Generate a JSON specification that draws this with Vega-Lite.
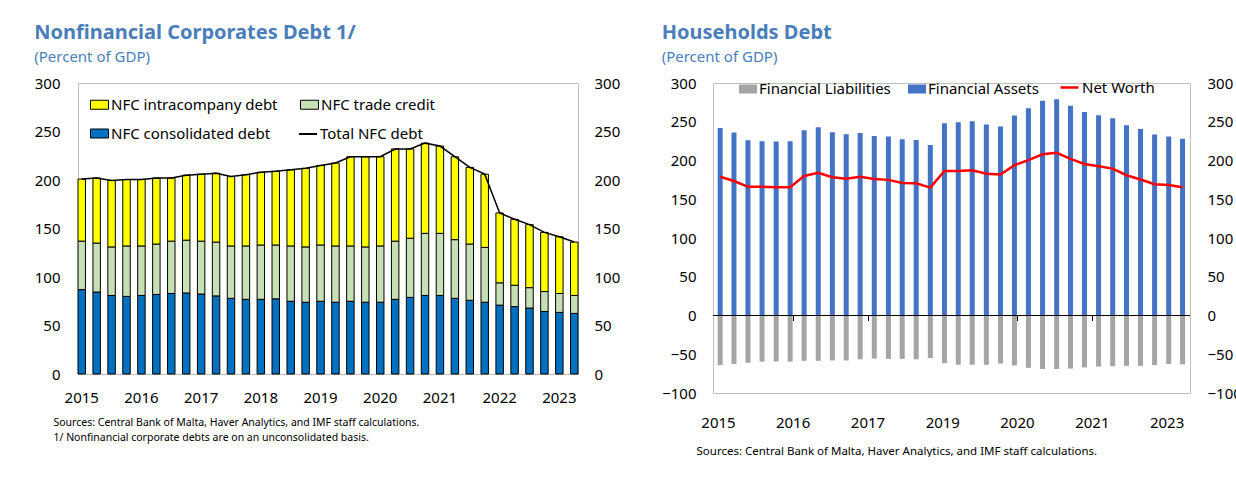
{
  "$schema": "https://vega.github.io/schema/vega-lite/v6.json",
  "background": "white",
  "padding": {"left": 33, "top": 22, "right": 0, "bottom": 0},
  "spacing": 40,
  "config": {
    "font": "Noto Sans",
    "view": {"stroke": "#BFBFBF", "strokeWidth": 1},
    "axis": {"labelFont": "Noto Sans", "labelFontSize": 15, "labelColor": "black", "grid": false, "ticks": false, "domain": false, "titleFont": "Noto Sans", "titleColor": "black", "titleFontWeight": "normal"},
    "legend": {"labelFont": "Noto Sans", "labelFontSize": 15, "labelColor": "black", "padding": 0, "title": null, "labelLimit": 400},
    "title": {"font": "Noto Sans", "fontSize": 20, "fontWeight": "bold", "color": "#4A7EBB", "subtitleFont": "Noto Sans", "subtitleFontSize": 15, "subtitleColor": "#4A7EBB", "subtitlePadding": 7, "anchor": "start", "frame": "bounds", "offset": 11}
  },
  "datasets": {
    "nfc": [
      {"q": "2015Q1", "cons": 87, "trade": 50, "intra": 64, "total": 201},
      {"q": "2015Q2", "cons": 84.5, "trade": 50.5, "intra": 67, "total": 202},
      {"q": "2015Q3", "cons": 81, "trade": 50, "intra": 68.5, "total": 199.5},
      {"q": "2015Q4", "cons": 80, "trade": 52, "intra": 68.5, "total": 200.5},
      {"q": "2016Q1", "cons": 81, "trade": 51, "intra": 68.5, "total": 200.5},
      {"q": "2016Q2", "cons": 82, "trade": 52, "intra": 68, "total": 202},
      {"q": "2016Q3", "cons": 83, "trade": 54, "intra": 65, "total": 202},
      {"q": "2016Q4", "cons": 83.5, "trade": 54.5, "intra": 67, "total": 205},
      {"q": "2017Q1", "cons": 82.5, "trade": 54.5, "intra": 69, "total": 206},
      {"q": "2017Q2", "cons": 80.5, "trade": 55.5, "intra": 71, "total": 207},
      {"q": "2017Q3", "cons": 78, "trade": 54, "intra": 71.5, "total": 203.5},
      {"q": "2017Q4", "cons": 77, "trade": 55, "intra": 73.5, "total": 205.5},
      {"q": "2018Q1", "cons": 77, "trade": 56, "intra": 75, "total": 208},
      {"q": "2018Q2", "cons": 77.5, "trade": 55.5, "intra": 76, "total": 209},
      {"q": "2018Q3", "cons": 75, "trade": 57, "intra": 78.5, "total": 210.5},
      {"q": "2018Q4", "cons": 74, "trade": 57, "intra": 81, "total": 212},
      {"q": "2019Q1", "cons": 75, "trade": 58, "intra": 82, "total": 215},
      {"q": "2019Q2", "cons": 74, "trade": 58, "intra": 85.5, "total": 217.5},
      {"q": "2019Q3", "cons": 75, "trade": 57, "intra": 92, "total": 224},
      {"q": "2019Q4", "cons": 74, "trade": 57, "intra": 93, "total": 224},
      {"q": "2020Q1", "cons": 74, "trade": 58, "intra": 92, "total": 224},
      {"q": "2020Q2", "cons": 77, "trade": 60, "intra": 95, "total": 232},
      {"q": "2020Q3", "cons": 79, "trade": 61, "intra": 92, "total": 232},
      {"q": "2020Q4", "cons": 81, "trade": 64, "intra": 93, "total": 238},
      {"q": "2021Q1", "cons": 81, "trade": 64, "intra": 90, "total": 235},
      {"q": "2021Q2", "cons": 78, "trade": 60.5, "intra": 85.5, "total": 224},
      {"q": "2021Q3", "cons": 76, "trade": 58, "intra": 79, "total": 213},
      {"q": "2021Q4", "cons": 74, "trade": 56.5, "intra": 75.5, "total": 206},
      {"q": "2022Q1", "cons": 71, "trade": 23, "intra": 72, "total": 166},
      {"q": "2022Q2", "cons": 69.5, "trade": 22, "intra": 68, "total": 159.5},
      {"q": "2022Q3", "cons": 68, "trade": 21, "intra": 65, "total": 154},
      {"q": "2022Q4", "cons": 64.5, "trade": 20.5, "intra": 61, "total": 146},
      {"q": "2023Q1", "cons": 63.5, "trade": 19.5, "intra": 58.5, "total": 141.5},
      {"q": "2023Q2", "cons": 62.5, "trade": 18.5, "intra": 55, "total": 136}
    ],
    "hh": [
      {"d": "2015-01-15", "assets": 242, "liab": -64, "net": 179},
      {"d": "2015-04-15", "assets": 236, "liab": -62.5, "net": 173.5},
      {"d": "2015-07-15", "assets": 226, "liab": -61, "net": 166},
      {"d": "2015-10-15", "assets": 225, "liab": -59.5, "net": 166},
      {"d": "2016-01-15", "assets": 224.5, "liab": -59.5, "net": 165.5},
      {"d": "2016-04-15", "assets": 225, "liab": -59.5, "net": 165.5},
      {"d": "2016-07-15", "assets": 239, "liab": -58.5, "net": 180},
      {"d": "2016-10-15", "assets": 243, "liab": -58.5, "net": 184},
      {"d": "2017-01-15", "assets": 236.5, "liab": -58, "net": 178.5},
      {"d": "2017-04-15", "assets": 234, "liab": -58, "net": 176.5},
      {"d": "2017-07-15", "assets": 235.5, "liab": -56.5, "net": 179},
      {"d": "2017-10-15", "assets": 231.5, "liab": -55.5, "net": 176},
      {"d": "2018-01-15", "assets": 231, "liab": -56, "net": 175},
      {"d": "2018-04-15", "assets": 227.5, "liab": -56, "net": 171},
      {"d": "2018-07-15", "assets": 226.5, "liab": -56.5, "net": 170.5},
      {"d": "2018-10-15", "assets": 220, "liab": -55, "net": 165},
      {"d": "2019-01-15", "assets": 248, "liab": -61.5, "net": 186.5},
      {"d": "2019-04-15", "assets": 249.5, "liab": -63.5, "net": 186.5},
      {"d": "2019-07-15", "assets": 250.5, "liab": -63.5, "net": 187.5},
      {"d": "2019-10-15", "assets": 246.5, "liab": -63.5, "net": 183},
      {"d": "2020-01-15", "assets": 244, "liab": -62, "net": 182},
      {"d": "2020-04-15", "assets": 258, "liab": -64.5, "net": 194},
      {"d": "2020-07-15", "assets": 267.5, "liab": -67.5, "net": 200.5},
      {"d": "2020-10-15", "assets": 277, "liab": -69, "net": 208},
      {"d": "2021-01-15", "assets": 279, "liab": -69, "net": 210},
      {"d": "2021-04-15", "assets": 270.5, "liab": -68.5, "net": 202},
      {"d": "2021-07-15", "assets": 262.5, "liab": -67, "net": 195.5},
      {"d": "2021-10-15", "assets": 258.5, "liab": -66, "net": 192.5},
      {"d": "2022-01-15", "assets": 254.5, "liab": -65.5, "net": 189.5},
      {"d": "2022-04-15", "assets": 245.5, "liab": -65, "net": 181},
      {"d": "2022-07-15", "assets": 240.5, "liab": -65, "net": 175.5},
      {"d": "2022-10-15", "assets": 233.5, "liab": -64, "net": 169.5},
      {"d": "2023-01-15", "assets": 231, "liab": -62.5, "net": 168.5},
      {"d": "2023-04-15", "assets": 228, "liab": -63, "net": 165.5}
    ]
  },
  "resolve": {"scale": {"fill": "independent", "stroke": "independent"}, "legend": {"fill": "independent", "stroke": "independent"}},
  "hconcat": [
    {
      "width": 500,
      "height": 291,
      "data": {"name": "nfc"},
      "title": {"text": "Nonfinancial Corporates Debt 1/", "subtitle": "(Percent of GDP)"},
      "layer": [
        {
          "transform": [
            {"fold": ["cons", "trade", "intra"], "as": ["key", "value"]},
            {"lookup": "key", "from": {"data": {"values": [
              {"key": "cons", "label": "NFC consolidated debt", "rank": 1},
              {"key": "trade", "label": "NFC trade credit", "rank": 2},
              {"key": "intra", "label": "NFC intracompany debt", "rank": 3}
            ]}, "key": "key", "fields": ["label", "rank"]}}
          ],
          "mark": {"type": "bar", "stroke": "black", "strokeWidth": 1},
          "encoding": {
            "x": {"field": "q", "type": "ordinal", "sort": null,
              "scale": {"paddingInner": 0.5, "paddingOuter": 0},
              "axis": {"labelAngle": 0, "labelPadding": 16,
                "labelExpr": "indexof(datum.value, 'Q1') > 0 ? slice(datum.value, 0, 4) : ''",
                "title": ["Sources: Central Bank of Malta, Haver Analytics, and IMF staff calculations.", "1/ Nonfinancial corporate debts are on an unconsolidated basis."],
                "titleFontSize": 10.5, "titleAnchor": "start", "titleAlign": "left", "titleX": -25, "titlePadding": 12, "titleLineHeight": 15}},
            "y": {"field": "value", "type": "quantitative", "stack": "zero",
              "scale": {"domain": [0, 300]},
              "axis": {"orient": "left", "values": [0, 50, 100, 150, 200, 250, 300], "title": null, "labelPadding": 18}},
            "fill": {"field": "label", "type": "nominal",
              "scale": {"domain": ["NFC intracompany debt", "NFC trade credit", "NFC consolidated debt"], "range": ["#FFFF00", "#C5E0B4", "#0070C0"]},
              "legend": {"orient": "none", "legendX": 12, "legendY": 12, "direction": "horizontal", "columns": 2, "columnPadding": 20, "rowPadding": 11,
                "symbolType": "M-1,-0.5H1V0.5H-1Z", "symbolSize": 324, "symbolStrokeColor": "black", "symbolStrokeWidth": 1, "symbolOpacity": 1, "labelOffset": 2}},
            "order": {"field": "rank", "type": "quantitative"}
          }
        },
        {
          "mark": {"type": "line", "strokeWidth": 1.5},
          "encoding": {
            "x": {"field": "q", "type": "ordinal", "sort": null},
            "y": {"field": "total", "type": "quantitative",
              "axis": {"orient": "right", "values": [0, 50, 100, 150, 200, 250, 300], "title": null, "labelPadding": 16}},
            "stroke": {"datum": "Total NFC debt", "scale": {"range": ["black"]},
              "legend": {"orient": "none", "legendX": 220, "legendY": 41, "symbolType": "stroke", "symbolSize": 324, "symbolStrokeWidth": 2, "labelOffset": 2}}
          }
        }
      ],
      "resolve": {"axis": {"y": "independent"}, "scale": {"fill": "independent", "stroke": "independent"}}
    },
    {
      "width": 477,
      "height": 310,
      "data": {"name": "hh"},
      "title": {"text": "Households Debt", "subtitle": "(Percent of GDP)"},
      "layer": [
        {
          "mark": {"type": "bar", "width": 5},
          "encoding": {
            "x": {"field": "d", "type": "temporal",
              "scale": {"domain": [{"year": 2015, "month": 1, "date": 1}, {"year": 2023, "month": 5, "date": 1}]},
              "axis": {"orient": "bottom", "offset": -77.5, "labels": false, "ticks": true, "tickSize": 5, "tickColor": "black", "tickWidth": 1, "title": null,
                "values": [{"year": 2015, "month": 1, "date": 1}, {"year": 2016, "month": 5, "date": 1}, {"year": 2017, "month": 9, "date": 1}, {"year": 2019, "month": 1, "date": 1}, {"year": 2020, "month": 5, "date": 1}, {"year": 2021, "month": 9, "date": 1}, {"year": 2023, "month": 1, "date": 1}]}},
            "y": {"field": "assets", "type": "quantitative",
              "scale": {"domain": [-100, 300]},
              "axis": {"orient": "left", "values": [-100, -50, 0, 50, 100, 150, 200, 250, 300], "title": null, "labelPadding": 17}},
            "fill": {"datum": "Financial Assets", "type": "nominal",
              "scale": {"domain": ["Financial Liabilities", "Financial Assets"], "range": ["#A5A5A5", "#4472C4"]},
              "legend": {"orient": "none", "legendX": 26, "legendY": -3, "direction": "horizontal", "columnPadding": 17,
                "symbolType": "M-1,-0.5H1V0.5H-1Z", "symbolSize": 324, "symbolStrokeWidth": 0, "symbolOpacity": 1, "labelOffset": 2}}
          }
        },
        {
          "mark": {"type": "bar", "width": 5},
          "encoding": {
            "x": {"field": "d", "type": "temporal", "axis": null},
            "y": {"field": "liab", "type": "quantitative", "axis": null},
            "fill": {"datum": "Financial Liabilities", "type": "nominal"}
          }
        },
        {
          "mark": {"type": "rule", "color": "black", "strokeWidth": 1},
          "encoding": {"y": {"datum": 0, "type": "quantitative", "axis": null}}
        },
        {
          "mark": {"type": "line", "strokeWidth": 2.5},
          "encoding": {
            "x": {"field": "d", "type": "temporal",
              "axis": {"orient": "bottom", "labelPadding": 22, "format": "%Y",
                "values": [{"year": 2015, "month": 1, "date": 1}, {"year": 2016, "month": 5, "date": 1}, {"year": 2017, "month": 9, "date": 1}, {"year": 2019, "month": 1, "date": 1}, {"year": 2020, "month": 5, "date": 1}, {"year": 2021, "month": 9, "date": 1}, {"year": 2023, "month": 1, "date": 1}],
                "title": "Sources: Central Bank of Malta, Haver Analytics, and IMF staff calculations.",
                "titleFontSize": 11.5, "titleAnchor": "start", "titleAlign": "left", "titleX": -17, "titlePadding": 15}},
            "y": {"field": "net", "type": "quantitative",
              "axis": {"orient": "right", "values": [-100, -50, 0, 50, 100, 150, 200, 250, 300], "title": null, "labelPadding": 17}},
            "stroke": {"datum": "Net Worth", "scale": {"range": ["#FF0000"]},
              "legend": {"orient": "none", "legendX": 346, "legendY": -6, "symbolType": "stroke", "symbolSize": 324, "symbolStrokeWidth": 2.5, "labelOffset": 2}}
          }
        }
      ],
      "resolve": {"axis": {"y": "independent", "x": "independent"}}
    }
  ]
}
